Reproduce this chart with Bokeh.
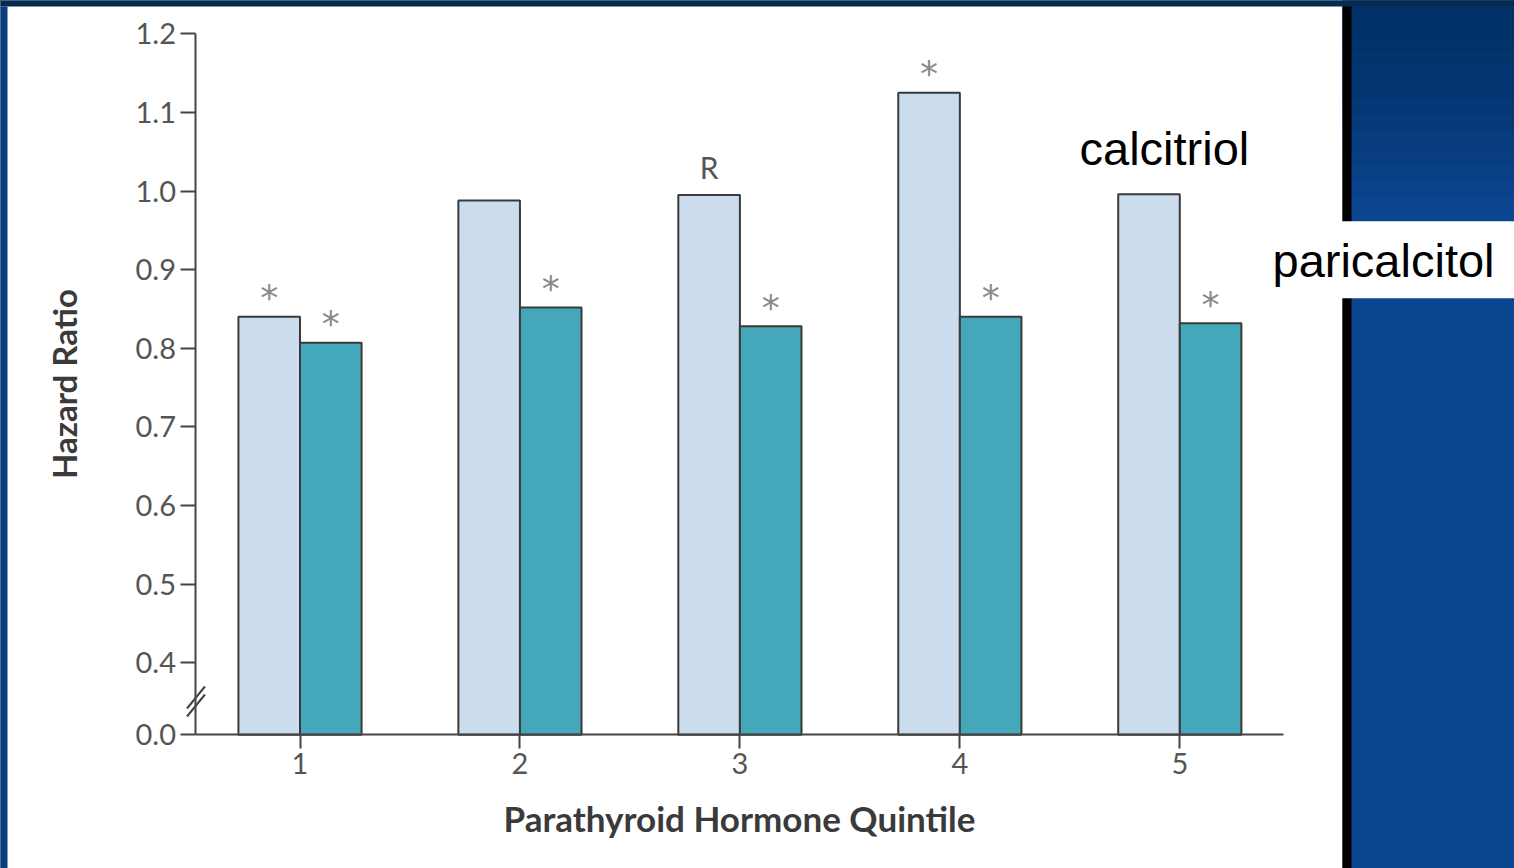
from bokeh.plotting import figure
from bokeh.models import FixedTicker, BoxAnnotation, Label, ColumnDataSource
from bokeh.core.properties import value
from bokeh.embed import file_html
from bokeh.resources import INLINE

# ---------------- data ----------------
quintiles = [1, 2, 3, 4, 5]
quintile_labels = ["1", "2", "3", "4", "5"]
series_names = ["calcitriol", "paricalcitol"]
calcitriol = [0.840, 0.988, 0.995, 1.125, 0.996]
paricalcitol = [0.807, 0.852, 0.828, 0.840, 0.832]
calcitriol_marks = ["*", "", "R", "*", ""]
paricalcitol_marks = ["*", "*", "*", "*", "*"]
y_ticks = [0.4, 0.5, 0.6, 0.7, 0.8, 0.9, 1.0, 1.1, 1.2]
y_tick_labels = ["0.4", "0.5", "0.6", "0.7", "0.8", "0.9", "1.0", "1.1", "1.2"]
break_label = "0.0"

# ---------------- layout constants ----------------
W, H = 1514, 868
X0, X1 = -0.3617, 6.5217
Y0, Y1 = 0.13838, 1.24235
BASE = 0.3084          # where the broken axis shows "0.0"
YAXIS_X = 0.527
XAXIS_END = 5.4715
OFF = 0.14
BW = 0.28


def dx(px):
    return X0 + px / W * (X1 - X0)


def dy(py):
    return Y1 - py / H * (Y1 - Y0)


p = figure(width=W, height=H, x_range=(X0, X1), y_range=(Y0, Y1),
           output_backend="svg", toolbar_location=None,
           min_border=0, min_border_left=0, min_border_right=0,
           min_border_top=0, min_border_bottom=0)
p.title.visible = False
p.background_fill_color = "white"
p.border_fill_color = "white"
p.outline_line_color = None
p.grid.visible = False

# slide frame (drawn first, underneath everything)
def box(l, r, t, b, color, alpha=1.0):
    p.add_layout(BoxAnnotation(left=dx(l), right=dx(r), top=dy(t), bottom=dy(b),
                               fill_color=color, fill_alpha=alpha, line_color=None,
                               level="underlay"))

box(1342, 1520, -5, 875, "#0b4590")
for k in range(12):
    box(1342, 1520, -5, 20 + k * 16, "#032a55", 0.09)
box(-5, 1520, -5, 6, "#06294f")
box(-5, 7, 6, 875, "#083e7a")
box(1342, 1351, 6, 875, "#000000")
box(1340, 1520, 220.7, 297.7, "#ffffff")

# bars
src = ColumnDataSource(dict(
    q=quintiles,
    xl=[q - OFF for q in quintiles],
    xr=[q + OFF for q in quintiles],
    c=calcitriol,
    pc=paricalcitol,
))
p.vbar(x="xl", top="c", bottom=BASE, width=BW, source=src,
       fill_color="#cbdded", line_color="#3a3a3a", line_width=2)
p.vbar(x="xr", top="pc", bottom=BASE, width=BW, source=src,
       fill_color="#45a8ba", line_color="#3a3a3a", line_width=2)

# significance marks
star_x, star_y = [], []
r_x, r_y, r_t = [], [], []
for q, v, m in zip(quintiles, calcitriol, calcitriol_marks):
    if m == "*":
        star_x.append(q - OFF); star_y.append(v)
    elif m:
        r_x.append(q - OFF); r_y.append(v); r_t.append(m)
for q, v, m in zip(quintiles, paricalcitol, paricalcitol_marks):
    if m == "*":
        star_x.append(q + OFF); star_y.append(v)
    elif m:
        r_x.append(q + OFF); r_y.append(v); r_t.append(m)

p.text(x=star_x, y=star_y, text=["*"] * len(star_x), y_offset=-19,
       text_font=value("DejaVu Sans"), text_font_size="36px",
       text_color="#8a8a8a", text_align="center", text_baseline="alphabetic")
p.text(x=r_x, y=r_y, text=r_t, y_offset=-28,
       text_font=value("Lato"), text_font_size="30px",
       text_color="#555555", text_align="center", text_baseline="alphabetic")

# axis break marks "//"
hx = 9 / 219.95
hy = 11 / 786.25
bc1 = dy(697)
bc2 = dy(705)
p.segment(x0=[YAXIS_X - hx, YAXIS_X - hx], y0=[bc1 - hy, bc2 - hy],
          x1=[YAXIS_X + hx, YAXIS_X + hx], y1=[bc1 + hy, bc2 + hy],
          line_color="#444444", line_width=2)

# axes
axis_color = "#444444"
xa = p.xaxis[0]
xa.fixed_location = BASE
xa.bounds = (YAXIS_X, XAXIS_END)
xa.ticker = FixedTicker(ticks=quintiles)
xa.major_label_overrides = {q: l for q, l in zip(quintiles, quintile_labels)}
xa.axis_label = "Parathyroid Hormone Quintile"
xa.axis_label_text_font = "Lato"
xa.axis_label_text_font_style = "bold"
xa.axis_label_text_font_size = "35px"
xa.axis_label_text_color = "#3a3a3a"
xa.axis_label_standoff = 20
xa.major_label_text_font = "Lato"
xa.major_label_text_font_size = "29px"
xa.major_label_text_color = "#555555"
xa.major_label_standoff = 4
xa.major_tick_out = 14
xa.major_tick_in = 0
xa.minor_tick_out = 0
xa.minor_tick_in = 0
xa.axis_line_color = axis_color
xa.axis_line_width = 2
xa.major_tick_line_color = axis_color
xa.major_tick_line_width = 2

ya = p.yaxis[0]
ya.fixed_location = YAXIS_X
ya.bounds = (BASE, 1.2)
ya.ticker = FixedTicker(ticks=[BASE] + y_ticks)
ov = {BASE: break_label}
ov.update({t: l for t, l in zip(y_ticks, y_tick_labels)})
ya.major_label_overrides = ov
ya.axis_label = "Hazard Ratio"
ya.axis_label_text_font = "Lato"
ya.axis_label_text_font_style = "bold"
ya.axis_label_text_font_size = "33px"
ya.axis_label_text_color = "#3a3a3a"
ya.axis_label_standoff = 48
ya.major_label_text_font = "Lato"
ya.major_label_text_font_size = "29px"
ya.major_label_text_color = "#555555"
ya.major_label_standoff = 5
ya.major_tick_out = 15
ya.major_tick_in = 0
ya.minor_tick_out = 0
ya.minor_tick_in = 0
ya.axis_line_color = axis_color
ya.axis_line_width = 2
ya.major_tick_line_color = axis_color
ya.major_tick_line_width = 2

# series labels
p.add_layout(Label(x=dx(1079), y=dy(148), text=series_names[0],
                   text_font="Liberation Sans", text_font_size="47px",
                   text_color="#000000", text_align="left", text_baseline="alphabetic"))
p.add_layout(Label(x=dx(1272), y=dy(260), text=series_names[1],
                   text_font="Liberation Sans", text_font_size="47px",
                   text_color="#000000", text_align="left", text_baseline="alphabetic"))

html = file_html(p, INLINE, title="Hazard Ratio by Parathyroid Hormone Quintile")
html = html.replace("<head>", "<head><style>html,body{background:#0b3a78;}</style>", 1)
open("out.html", "w").write(html)
